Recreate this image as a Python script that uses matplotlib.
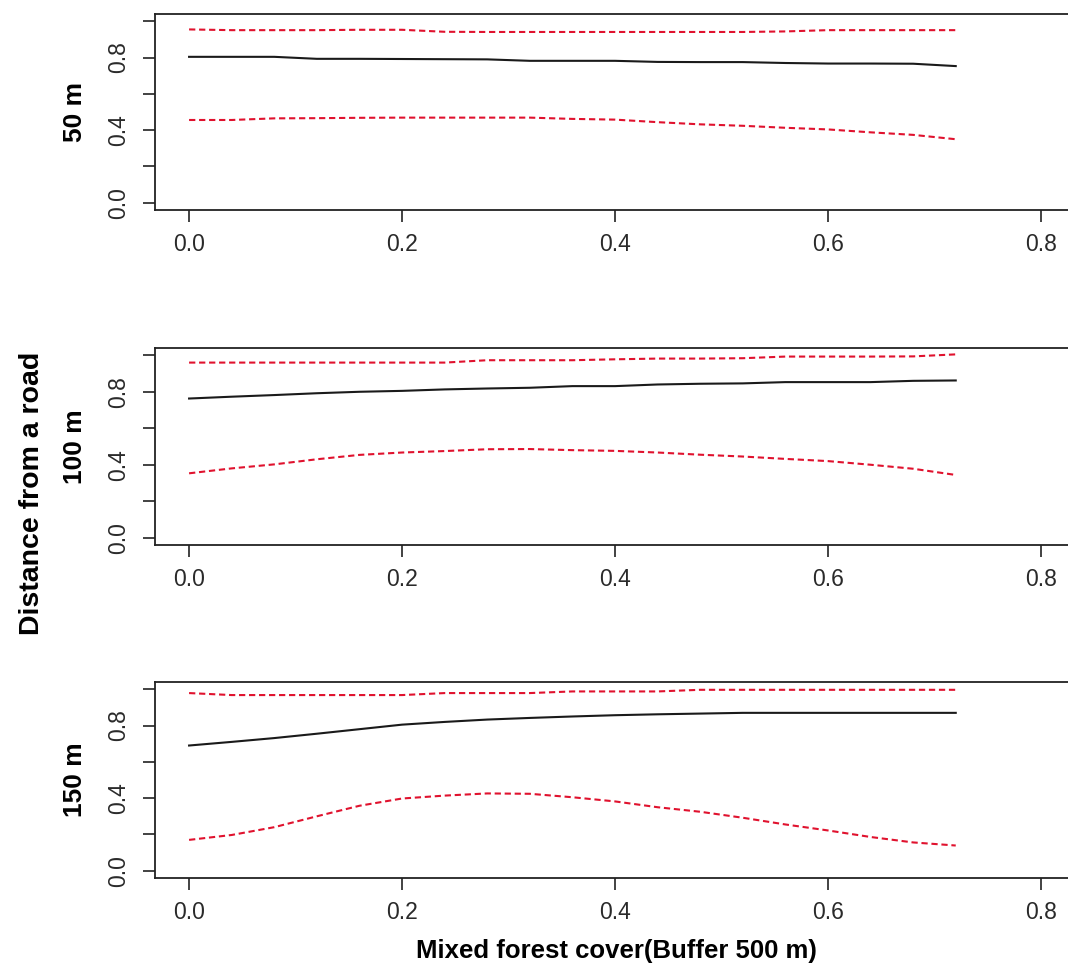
import numpy as np
import matplotlib
matplotlib.use("Agg")
import matplotlib.pyplot as plt

# mixed forest cover (x) shared by all three panels
cover = [0.00, 0.04, 0.08, 0.12, 0.16, 0.20, 0.24, 0.28, 0.32, 0.36,
         0.40, 0.44, 0.48, 0.52, 0.56, 0.60, 0.64, 0.68, 0.72]

# 50 m
fit_50 = [0.804, 0.804, 0.804, 0.793, 0.793, 0.792, 0.791, 0.790, 0.782, 0.782,
          0.782, 0.776, 0.775, 0.775, 0.770, 0.767, 0.767, 0.766, 0.753]
upper_50 = [0.955, 0.951, 0.951, 0.951, 0.953, 0.953, 0.942, 0.941, 0.941, 0.941,
            0.941, 0.941, 0.941, 0.941, 0.944, 0.951, 0.951, 0.951, 0.951]
lower_50 = [0.456, 0.456, 0.465, 0.466, 0.468, 0.469, 0.469, 0.469, 0.469, 0.462,
            0.458, 0.444, 0.432, 0.424, 0.413, 0.404, 0.388, 0.374, 0.350]

# 100 m
fit_100 = [0.763, 0.773, 0.782, 0.792, 0.800, 0.805, 0.813, 0.818, 0.822, 0.831,
           0.831, 0.840, 0.844, 0.846, 0.853, 0.853, 0.853, 0.860, 0.862]
upper_100 = [0.960, 0.960, 0.960, 0.960, 0.960, 0.960, 0.960, 0.973, 0.973, 0.973,
             0.978, 0.982, 0.982, 0.984, 0.993, 0.993, 0.993, 0.994, 1.005]
lower_100 = [0.353, 0.380, 0.402, 0.430, 0.454, 0.467, 0.475, 0.485, 0.486, 0.480,
             0.476, 0.467, 0.455, 0.445, 0.432, 0.420, 0.400, 0.378, 0.344]

# 150 m
fit_150 = [0.690, 0.710, 0.731, 0.755, 0.780, 0.805, 0.820, 0.833, 0.842, 0.850,
           0.857, 0.862, 0.866, 0.870, 0.870, 0.870, 0.870, 0.870, 0.870]
upper_150 = [0.979, 0.968, 0.968, 0.968, 0.968, 0.968, 0.979, 0.979, 0.979, 0.988,
             0.988, 0.988, 0.997, 0.997, 0.997, 0.997, 0.997, 0.997, 0.997]
lower_150 = [0.170, 0.197, 0.240, 0.300, 0.358, 0.398, 0.414, 0.426, 0.424, 0.405,
             0.382, 0.350, 0.325, 0.292, 0.255, 0.222, 0.186, 0.156, 0.139]

panel_names = ["50 m", "100 m", "150 m"]
fits = [fit_50, fit_100, fit_150]
uppers = [upper_50, upper_100, upper_150]
lowers = [lower_50, lower_100, lower_150]

x_ticks = [0.0, 0.2, 0.4, 0.6, 0.8]
x_labels = ["0.0", "0.2", "0.4", "0.6", "0.8"]
y_ticks = [0.0, 0.2, 0.4, 0.6, 0.8, 1.0]
y_labels = ["0.0", "", "0.4", "", "0.8", ""]

tick_font = ["Liberation Sans", "DejaVu Sans"]
label_font = ["Liberation Sans", "DejaVu Sans"]

W, H = 1068, 972
fig = plt.figure(figsize=(W / 100, H / 100), dpi=100)

# axes boxes in pixels: (top, bottom) of each panel
boxes = [(14, 210), (348, 545), (682, 878)]
left_px, right_px = 155, 1075

red = "#e0122e"
for i in range(3):
    top, bot = boxes[i]
    ax = fig.add_axes([left_px / W, 1 - bot / H, (right_px - left_px) / W, (bot - top) / H])
    ax.plot(cover, fits[i], color="#1a1a1a", lw=1.5)
    ax.plot(cover, uppers[i], color=red, lw=1.5, linestyle=(0, (3, 1.8)))
    ax.plot(cover, lowers[i], color=red, lw=1.5, linestyle=(0, (3, 1.8)))

    ax.set_xlim(-0.032, 0.832)
    ax.set_ylim(-0.04, 1.04)
    ax.set_xticks(x_ticks)
    ax.set_xticklabels(x_labels, family=tick_font, fontsize=16.5, color="#2a2a2a")
    ax.set_yticks(y_ticks)
    ax.set_yticklabels(y_labels, family=tick_font, fontsize=16.5, color="#2a2a2a",
                       rotation=90, va="center")
    ax.tick_params(axis="both", direction="out", length=8.6, width=1.2, color="#222222")
    ax.tick_params(axis="x", pad=8)
    ax.tick_params(axis="y", pad=9)
    for s in ax.spines.values():
        s.set_linewidth(1.3)
        s.set_color("#222222")

    fig.text(75 / W, 1 - (top + bot) / 2 / H, panel_names[i], rotation=90,
             ha="center", va="center", fontsize=19, fontweight="bold", family=label_font)

fig.text(32 / W, 1 - 493 / H, "Distance from a road", rotation=90,
         ha="center", va="center", fontsize=20.5, fontweight="bold", family=label_font)
fig.text(616 / W, 1 - 951 / H, "Mixed forest cover(Buffer 500 m)",
         ha="center", va="center", fontsize=18.5, fontweight="bold", family=label_font)

fig.savefig("out.png", dpi=100)
